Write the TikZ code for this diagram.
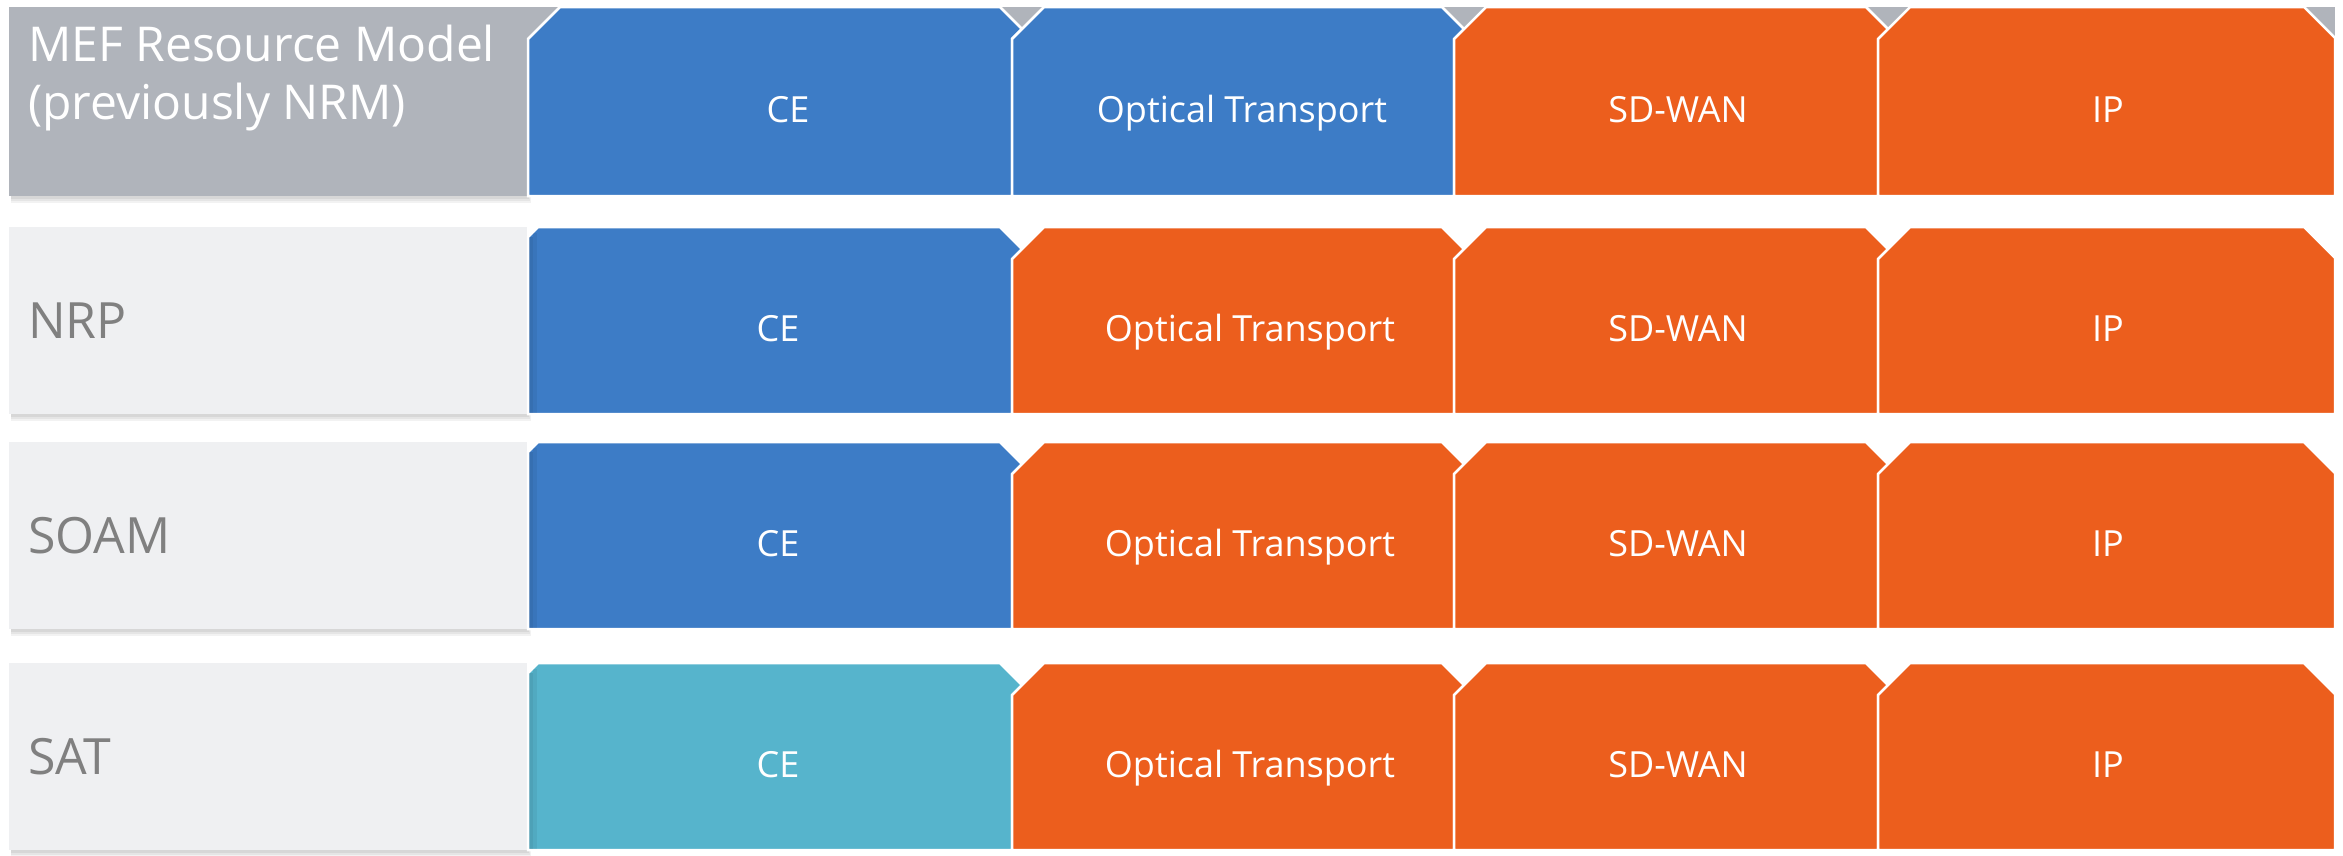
\documentclass[tikz,border=0pt]{standalone}
\usepackage{fontspec}
\setmainfont{Open Sans}
\definecolor{mefblue}{RGB}{61,124,198}
\definecolor{meforange}{RGB}{236,94,29}
\definecolor{mefcyan}{RGB}{86,180,204}
\definecolor{mefgrey}{RGB}{176,180,187}
\definecolor{meflight}{RGB}{239,240,242}
\definecolor{meftext}{RGB}{128,128,128}
\newcommand\chevbox[6]{%
  \filldraw[fill=#5, draw=white, line width=2.5, line join=miter]
    (#1,#4) -- (#1,#3+#6) -- (#1+#6,#3) -- (#2-12,#3) -- (#2+10,#3+22) -- (#2,#3+32) -- (#2,#4) -- cycle;}
\newcommand\chevlast[4]{%
  \filldraw[fill=#4, draw=white, line width=2.5, line join=miter]
    (#1,#3) -- (#1,#2+32) -- (#1+32,#2) -- (2304,#2) -- (2335,#2+31) -- (2335,#3) -- cycle;}
\newcommand\softshadow[4]{%
  \fill[black, opacity=0.05] (#1+2,#4-4) rectangle (#3+4,#4+7);
  \fill[black, opacity=0.05] (#1+2,#4-4) rectangle (#3+3,#4+5);
  \fill[black, opacity=0.06] (#1+2,#4-4) rectangle (#3+2,#4+3);}
\tikzset{
  chevtext/.style={text=white, font=\fontsize{36}{43}\selectfont, anchor=base, inner sep=0pt},
  labtext/.style={text=meftext, font=\fontsize{50}{58}\selectfont, anchor=base west, inner sep=0pt},
  titletext/.style={text=white, font=\fontsize{48}{58}\selectfont, anchor=base west, inner sep=0pt}
}
\begin{document}
\begin{tikzpicture}[x=1pt,y=-1pt]
\useasboundingbox[fill=white] (0,0) rectangle (2343,855);

% ---------- Row 1 ----------
\softshadow{9}{7}{527}{196}
\fill[mefgrey] (9,7) rectangle (2335,196);
\chevbox{528}{1012}{7}{196}{mefblue}{32}
\chevbox{1012}{1454}{7}{196}{mefblue}{32}
\chevbox{1454}{1878}{7}{196}{meforange}{32}
\chevlast{1878}{7}{196}{meforange}
\node[titletext] (t1) at (28,61) {MEF Resource Model};
\node[titletext] (t2) at (28,119) {(previously NRM)};
\node[chevtext] (r1a) at (788,122) {CE};
\node[chevtext] (r1b) at (1242,122) {Optical Transport};
\node[chevtext] (r1c) at (1678,122) {SD-WAN};
\node[chevtext] (r1d) at (2108,122) {IP};

% ---------- Rows 2-4 ----------
\foreach \T/\B/\lab/\cecol/\nm in {227/414/NRP/mefblue/r2, 442/629/SOAM/mefblue/r3, 663/850/SAT/mefcyan/r4}{
  \softshadow{9}{\T}{527}{\B}
  \fill[meflight] (9,\T) rectangle (527,\B);
  \chevbox{528}{1012}{\T}{\B}{\cecol}{10}
  \fill[black, opacity=0.10] (529,\T+10) rectangle (533,\B-1);
  \fill[black, opacity=0.05] (533,\T+6) rectangle (537,\B-1);
  \chevbox{1012}{1454}{\T}{\B}{meforange}{32}
  \chevbox{1454}{1878}{\T}{\B}{meforange}{32}
  \chevlast{1878}{\T}{\B}{meforange}
  \pgfmathsetmacro\cy{(\T+\B)/2}
  \node[labtext] (\nm l) at (28,\cy+18) {\lab};
  \node[chevtext] (\nm a) at (778,\cy+21) {CE};
  \node[chevtext] (\nm b) at (1250,\cy+21) {Optical Transport};
  \node[chevtext] (\nm c) at (1678,\cy+21) {SD-WAN};
  \node[chevtext] (\nm d) at (2108,\cy+21) {IP};
}
\end{tikzpicture}
\end{document}
